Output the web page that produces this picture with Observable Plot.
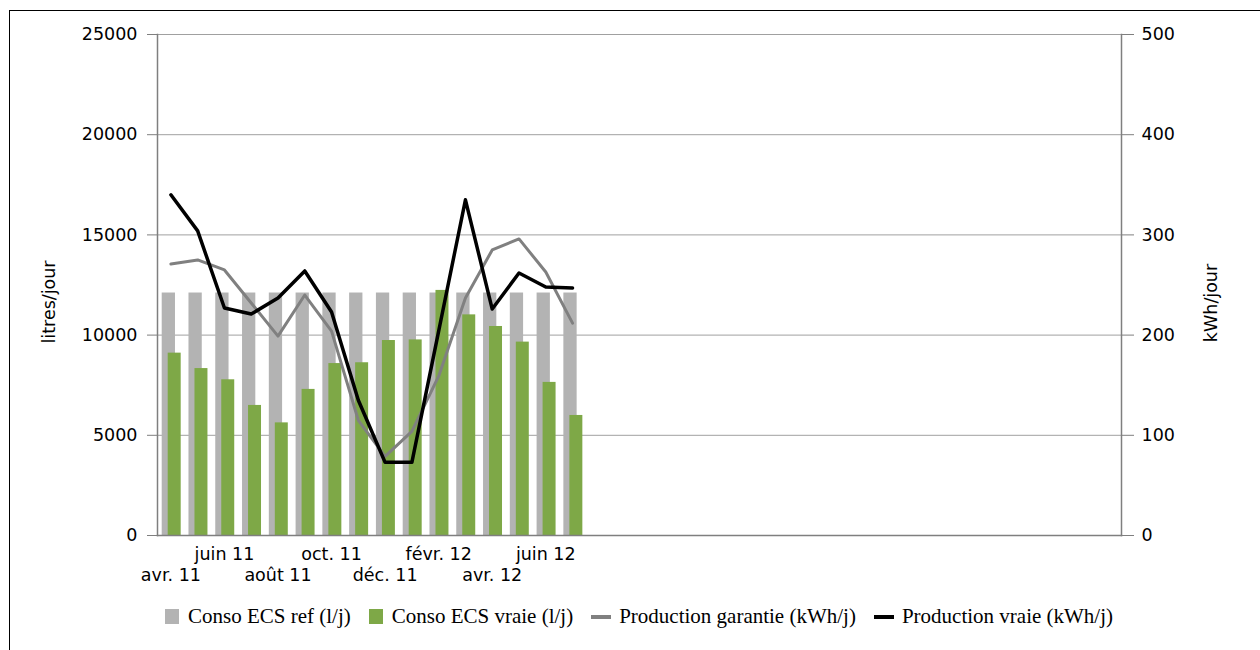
<!DOCTYPE html>
<html>
<head>
<meta charset="utf-8">
<script src="https://cdn.jsdelivr.net/npm/d3@7"></script>
<script src="https://cdn.jsdelivr.net/npm/@observablehq/plot@0.6"></script>
<style>
  html, body { margin: 0; padding: 0; background: #fff; overflow: hidden; width: 1260px; height: 650px; }
  #frame { position: absolute; left: 9px; top: 10px; width: 1400px; height: 800px; border-left: 1px solid #000; border-top: 1px solid #000; }
  #chart { position: absolute; left: 0; top: 0; }
  #legend { position: absolute; left: 165px; top: 604px; display: flex; align-items: center; font-family: "Liberation Serif", "Times New Roman", serif; font-size: 21px; color: #000; white-space: nowrap; }
  .item { display: flex; align-items: center; margin-right: 18px; }
  .sw { width: 14px; height: 15px; margin-right: 9px; }
  .ln { width: 20px; height: 4px; margin-right: 8px; }
</style>
</head>
<body>
<div id="frame"></div>
<div id="chart"></div>
<div id="legend"></div>
<script>
// ---- data ----
const months = ["avr. 11","mai 11","juin 11","juil. 11","août 11","sept. 11","oct. 11","nov. 11","déc. 11","janv. 12","févr. 12","mars 12","avr. 12","mai 12","juin 12","juil. 12"];
const totalSlots = 36; // category axis length (empty categories after juil. 12)
const consoRef = [12100,12100,12100,12100,12100,12100,12100,12100,12100,12100,12100,12100,12100,12100,12100,12100];
const consoVraie = [9100,8330,7770,6490,5620,7290,8580,8620,9730,9760,12230,11010,10430,9650,7640,5990];
const prodGarantie = [271,275,265,232,199,240,204,115,79,104,159,237,285,296,263,212];
const prodVraie = [340,304,227,221,237,264,223,135,73,73,204,335,226,262,248,247];
const leftTicks = [0,5000,10000,15000,20000,25000];
const kwhToLitres = 50; // right axis 0-500 maps onto left axis 0-25000
const labelRow1 = [2,6,10,14];
const labelRow2 = [0,4,8,12];

const series = [
  {name: "Conso ECS ref (l/j)", color: "#b3b3b3", kind: "sw"},
  {name: "Conso ECS vraie (l/j)", color: "#7ea847", kind: "sw"},
  {name: "Production garantie (kWh/j)", color: "#808080", kind: "ln"},
  {name: "Production vraie (kWh/j)", color: "#000000", kind: "ln"}
];

const rows = (arr) => arr.map((v, i) => ({i, v}));

const chart = Plot.plot({
  width: 1260,
  height: 598,
  marginLeft: 157,
  marginRight: 139,
  marginTop: 34,
  marginBottom: 63,
  x: {type: "band", domain: d3.range(totalSlots), padding: 0, round: false},
  y: {domain: [0, 25000]},
  style: {fontFamily: "DejaVu Sans", fontSize: "17.5px", color: "#000", background: "transparent"},
  marks: [
    Plot.gridY({ticks: leftTicks.slice(1), stroke: "#a0a0a0", strokeOpacity: 1, strokeWidth: 1}),
    Plot.barY(rows(consoRef), {x: "i", y: "v", fill: series[0].color, insetLeft: 4.7, insetRight: 8.8}),
    Plot.barY(rows(consoVraie), {x: "i", y: "v", fill: series[1].color, insetLeft: 10.7, insetRight: 3.1}),
    Plot.lineY(rows(prodGarantie), {x: "i", y: d => d.v * kwhToLitres, stroke: series[2].color, strokeWidth: 3}),
    Plot.lineY(rows(prodVraie), {x: "i", y: d => d.v * kwhToLitres, stroke: series[3].color, strokeWidth: 3.5}),
    Plot.frame({anchor: "left", stroke: "#7f7f7f", strokeWidth: 1.5}),
    Plot.frame({anchor: "right", stroke: "#7f7f7f", strokeWidth: 1.5}),
    Plot.frame({anchor: "bottom", stroke: "#7f7f7f", strokeWidth: 1.5}),
    Plot.axisY({anchor: "left", ticks: leftTicks, tickSize: 10, tickPadding: 10, tickFormat: d => String(d), label: null, stroke: "#7f7f7f", fill: "#000"}),
    Plot.axisY({anchor: "right", ticks: leftTicks, tickSize: 12, tickPadding: 8, tickFormat: d => String(d / kwhToLitres), label: null, stroke: "#7f7f7f", fill: "#000"}),
    Plot.axisX({ticks: labelRow1, tickSize: 0, tickPadding: 12, tickFormat: i => months[i] ?? "", label: null, fill: "#000"}),
    Plot.axisX({ticks: labelRow2, tickSize: 0, tickPadding: 33, tickFormat: i => months[i] ?? "", label: null, fill: "#000"}),
    Plot.text(["litres/jour"], {frameAnchor: "left", textAnchor: "middle", rotate: -90, dx: -108, dy: 17, fill: "#000"}),
    Plot.text(["kWh/jour"], {frameAnchor: "right", textAnchor: "middle", rotate: -90, dx: 90, dy: 18, fill: "#000"})
  ]
});
document.getElementById("chart").appendChild(chart);

const legend = document.getElementById("legend");
for (const s of series) {
  const item = document.createElement("div");
  item.className = "item";
  const mark = document.createElement("div");
  mark.className = s.kind;
  mark.style.background = s.color;
  const label = document.createElement("span");
  label.textContent = s.name;
  item.appendChild(mark);
  item.appendChild(label);
  legend.appendChild(item);
}
</script>
</body>
</html>
